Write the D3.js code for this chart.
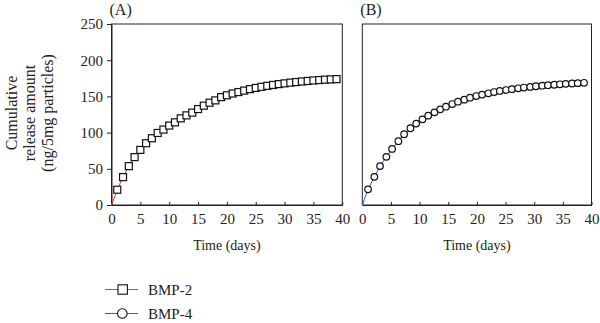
<!DOCTYPE html>
<html><head><meta charset="utf-8">
<script src="https://cdn.jsdelivr.net/npm/d3@7"></script>
<style>body{margin:0;background:#fff}svg{display:block}text{font-family:"Liberation Serif","Times New Roman",serif;fill:#222}</style>
</head><body><svg id="c" width="600" height="323"></svg>
<script>
const xTicks = [0,5,10,15,20,25,30,35,40];
const yTicks = [0,50,100,150,200,250];
const daysA = [1,2,3,4,5,6,7,8,9,10,11,12,13,14,15,16,17,18,19,20,21,22,23,24,25,26,27,28,29,30,31,32,33,34,35,36,37,38,39];
const bmp2 = [21.1,38.5,53.7,66.1,76.1,85.3,92.2,99.5,104.2,109.7,114.2,119.7,123.8,127.6,132.5,137.2,141.3,144.5,149,151.5,154,156,158,160,161.7,163.2,164.6,165.8,167,168,169,169.8,170.6,171.3,172,172.6,173.1,173.5,173.9];
const daysB = [1.0,2.1,3.1,4.2,5.2,6.3,7.3,8.4,9.4,10.5,11.5,12.6,13.6,14.6,15.7,16.7,17.8,18.8,19.9,20.9,22.0,23.0,24.0,25.1,26.1,27.2,28.2,29.3,30.3,31.4,32.4,33.5,34.5,35.5,36.6,37.6,38.7];
const bmp4 = [21.6,38.9,53.7,66.5,77.5,88.1,97.7,106,112.4,118.3,123.4,128,132.1,135.8,139.4,142.7,145.5,148.2,150.5,152.5,154.3,156,157.5,158.8,160,161.2,162.2,163.1,164,164.8,165.5,166.1,166.7,167.3,167.8,168.3,168.8];
const panelLabels = ["(A)","(B)"];
const seriesNames = ["BMP-2","BMP-4"];
const xTitle = "Time (days)";
const yTitle = ["Cumulative","release amount","(ng/5mg particles)"];

const svg = d3.select("#c");
const y = d3.scaleLinear().domain([0,250]).range([205,24]);
const panels = [
  {x: d3.scaleLinear().domain([0,40]).range([111.5,342.3]), days: daysA, vals: bmp2, color:"#e8392f", shape:"square", label: panelLabels[0], yLabels:true},
  {x: d3.scaleLinear().domain([0,40]).range([362.3,591.5]), days: daysB, vals: bmp4, color:"#3a5fcd", shape:"circle", label: panelLabels[1], yLabels:false}
];

panels.forEach(p => {
  const g = svg.append("g");
  const [x0,x1] = p.x.range();
  g.append("rect").attr("x",x0).attr("y",y(250)).attr("width",x1-x0).attr("height",y(0)-y(250))
    .attr("fill","none").attr("stroke","#222").attr("stroke-width",1);
  const xa = g.append("g").attr("transform",`translate(0,${y(0)})`)
    .call(d3.axisBottom(p.x).tickValues(xTicks).tickSizeInner(-3).tickSizeOuter(0).tickPadding(8));
  xa.select(".domain").attr("stroke","#222");
  xa.selectAll(".tick line").attr("stroke","#222");
  xa.selectAll("text").attr("font-size",15).attr("font-family","Liberation Serif").attr("fill","#222");
  if (p.yLabels) {
    const ya = g.append("g").attr("transform",`translate(${x0},0)`)
      .call(d3.axisLeft(y).tickValues(yTicks).tickSizeInner(4.5).tickSizeOuter(0).tickPadding(4));
    ya.select(".domain").attr("stroke","#222");
    ya.selectAll(".tick line").attr("stroke","#222");
    ya.selectAll("text").attr("font-size",15).attr("font-family","Liberation Serif").attr("fill","#222");
  }
  const pts = [[0,0]].concat(p.days.map((d,i)=>[d,p.vals[i]]));
  g.append("path").datum(pts)
    .attr("d", d3.line().x(d=>p.x(d[0])).y(d=>y(d[1])))
    .attr("fill","none").attr("stroke",p.color).attr("stroke-width",1);
  const data = p.days.map((d,i)=>[d,p.vals[i]]);
  if (p.shape==="square") {
    g.selectAll("rect.m").data(data).join("rect").attr("class","m")
      .attr("x",d=>p.x(d[0])-3.5).attr("y",d=>y(d[1])-3.5).attr("width",7).attr("height",7)
      .attr("fill","#fff").attr("stroke","#111").attr("stroke-width",1.2);
  } else {
    g.selectAll("circle.m").data(data).join("circle").attr("class","m")
      .attr("cx",d=>p.x(d[0])).attr("cy",d=>y(d[1])).attr("r",3.3)
      .attr("fill","#fff").attr("stroke","#111").attr("stroke-width",1.2);
  }
  g.append("text").attr("x",x0-2).attr("y",15).attr("font-size",16).text(p.label);
  g.append("text").attr("x",(x0+x1)/2).attr("y",250).attr("text-anchor","middle").attr("font-size",14).text(xTitle);
});

const yt = svg.append("text").attr("transform","translate(0,113) rotate(-90)").attr("text-anchor","middle").attr("font-size",16);
yTitle.forEach((t,i)=> yt.append("tspan").attr("x",0).attr("y",17 + i*18).text(t));

const leg = [{name:seriesNames[0],color:"#e8392f",shape:"square",cy:289.5},{name:seriesNames[1],color:"#3a5fcd",shape:"circle",cy:313.5}];
leg.forEach(l => {
  const g = svg.append("g");
  g.append("line").attr("x1",105).attr("x2",138).attr("y1",l.cy).attr("y2",l.cy).attr("stroke",l.color).attr("stroke-width",1);
  if (l.shape==="square") g.append("rect").attr("x",118).attr("y",l.cy-4.7).attr("width",9.4).attr("height",9.4).attr("fill","#fff").attr("stroke","#111").attr("stroke-width",1.1);
  else g.append("circle").attr("cx",122.3).attr("cy",l.cy).attr("r",4.8).attr("fill","#fff").attr("stroke","#111").attr("stroke-width",1.1);
  g.append("text").attr("x",148).attr("y",l.cy+5).attr("font-size",15).text(l.name);
});
</script></body></html>
